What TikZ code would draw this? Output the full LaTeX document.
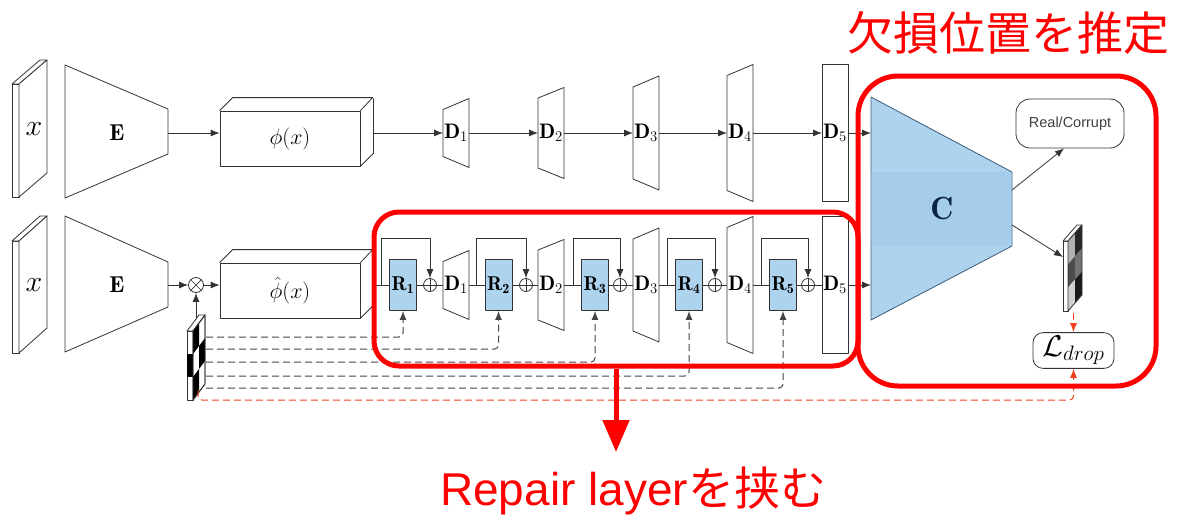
\documentclass[tikz,border=0pt]{standalone}
\usepackage{fix-cm}
\usepackage{fontspec}
\usetikzlibrary{arrows.meta}
\newfontfamily\sansfont{Liberation Sans}
\newfontfamily\cjk{Noto Sans CJK JP}
\definecolor{blockblue}{HTML}{AED3EE}
\definecolor{bandblue}{HTML}{9CC6E8}
\definecolor{cedge}{HTML}{3B5B78}
\definecolor{cnavy}{HTML}{0B2340}
\definecolor{dropred}{HTML}{F0401E}
\definecolor{maskgray}{HTML}{454545}

\begin{document}
\begin{tikzpicture}[x=1pt, y=-1pt, line join=round,
    net/.style={draw=black!80, line width=0.8pt},
    arr/.style={net, -{Latex[length=9pt,width=7pt]}},
    rblock/.style={net, fill=blockblue, minimum width=27pt, minimum height=51pt, inner sep=0pt,
      font=\fontsize{20}{22}\selectfont},
    adder/.style={net, circle, minimum size=13pt, inner sep=0pt, path picture={
      \draw[line width=0.8pt] (path picture bounding box.north) -- (path picture bounding box.south)
        (path picture bounding box.west) -- (path picture bounding box.east);}},
    mult/.style={net, circle, minimum size=15pt, inner sep=0pt, path picture={
      \draw[line width=0.7pt] (path picture bounding box.north west) -- (path picture bounding box.south east)
        (path picture bounding box.north east) -- (path picture bounding box.south west);}},
    maskline/.style={draw=maskgray, line width=1pt, dash pattern=on 7pt off 4pt, rounded corners=4pt,
      -{Latex[length=9pt,width=7pt]}},
    dropline/.style={draw=dropred, line width=1pt, dash pattern=on 7pt off 4pt, rounded corners=4pt,
      -{Latex[length=9pt,width=7pt]}},
    redbox/.style={draw=red, line width=5pt, inner sep=0pt},
    dlabel/.style={inner sep=0pt, font=\fontsize{21}{23}\selectfont},
  ]
  \useasboundingbox (0,0) rectangle (1180,517);

  % input slabs
  \draw[net, fill=white] (12,84) rectangle (19,197);
  \draw[net, fill=white] (12,84) -- (40,60) -- (47,60) -- (19,84) -- cycle;
  \draw[net, fill=white] (19,84) -- (47,60) -- (47,173) -- (19,197) -- cycle;
  \node (xa) at (34,129) {\fontsize{30}{32}\selectfont$x$};
  \draw[net, fill=white] (12,241) rectangle (19,353);
  \draw[net, fill=white] (12,241) -- (40,216) -- (47,216) -- (19,241) -- cycle;
  \draw[net, fill=white] (19,241) -- (47,216) -- (47,328) -- (19,353) -- cycle;
  \node (xb) at (34,285) {\fontsize{30}{32}\selectfont$x$};

  % encoders
  \draw[net] (65,65) -- (168,109) -- (168,154) -- (65,198) -- cycle;
  \node (Ea) at (117,133) {\fontsize{23}{25}\selectfont$\mathbf{E}$};
  \coordinate (Ea-e) at (168,133);
  \draw[net] (65,216) -- (168,262) -- (168,307) -- (65,352) -- cycle;
  \node (Eb) at (117,285) {\fontsize{23}{25}\selectfont$\mathbf{E}$};
  \coordinate (Eb-e) at (168,285);

  % feature boxes
  \node[net, minimum width=140pt, minimum height=55pt] (pha) at (290,138.5) {\fontsize{22}{24}\selectfont$\phi(x)$};
  \draw[net] (pha.north west) -- ++(13,-13) -- ++(140,0) -- (pha.north east)
    (pha.south east) -- ++(13,-13) -- ++(0,-55);
  \coordinate (pha-e) at (373,133);
  \node[net, minimum width=140pt, minimum height=55pt] (phb) at (290,290.5) {\fontsize{22}{24}\selectfont$\hat{\phi}(x)$};
  \draw[net] (phb.north west) -- ++(13,-13) -- ++(140,0) -- (phb.north east)
    (phb.south east) -- ++(13,-13) -- ++(0,-55);
  \coordinate (phb-e) at (373,285);

  \draw[arr] (Ea-e) -- (Ea-e -| pha.west);
  \node[mult] (X) at (196,285) {};
  \draw[arr] (Eb-e) -- (X);
  \draw[arr] (X) -- (X -| phb.west);

  % decoder layers
  \foreach \i/\xl/\hl/\hr in {1/443/23.5/34.5, 2/538/35/45.5, 3/633/46/57, 4/727/57.5/68.5, 5/822/68.5/68.5} {
    \draw[net, fill=white] (\xl,133-\hl) -- (\xl+26,133-\hr) -- (\xl+26,133+\hr) -- (\xl,133+\hl) -- cycle;
    \coordinate (tD\i-w) at (\xl,133);
    \coordinate (tD\i-e) at (\xl+26,133);
    \node[dlabel] (tD\i) at (\xl+13,133) {$\mathbf{D}_{\i}$};
    \draw[net, fill=white] (\xl,285-\hl) -- (\xl+26,285-\hr) -- (\xl+26,285+\hr) -- (\xl,285+\hl) -- cycle;
    \coordinate (bD\i-w) at (\xl,285);
    \coordinate (bD\i-e) at (\xl+26,285);
    \node[dlabel] (bD\i) at (\xl+13,285) {$\mathbf{D}_{\i}$};
  }
  \draw[arr] (pha-e) -- (tD1-w);
  \foreach \i/\j in {1/2, 2/3, 3/4, 4/5}
    \draw[arr] (tD\i-e) -- (tD\j-w);

  % repair layers
  \foreach \i/\xr/\xp in {1/403/430, 2/498.5/526, 3/595/620, 4/689/715, 5/783/808} {
    \node[rblock] (R\i) at (\xr,285) {$\mathbf{R}_{\mathbf{\i}}$};
    \node[adder] (P\i) at (\xp,285) {};
    \draw[net] (R\i) -- (P\i);
    \draw[net] (P\i) -- (bD\i-w);
    \draw[arr] ([xshift=-8pt]R\i.west) -- ++(0,-47) -| (P\i.north);
  }
  \draw[net] (phb-e) -- (R1);
  \foreach \i/\j in {1/2, 2/3, 3/4, 4/5}
    \draw[net] (bD\i-e) -- (R\j);

  % classifier
  \draw[draw=cedge, line width=0.8pt, fill=blockblue] (871,97) -- (1012,172) -- (1012,246) -- (871,320) -- cycle;
  \fill[bandblue, opacity=0.45] (871,172) rectangle (1012,246);
  \node[text=cnavy] (C) at (942,209) {\fontsize{32}{34}\selectfont$\mathbf{C}$};
  \coordinate (C-tw) at (871,133);
  \coordinate (C-bw) at (871,285);
  \coordinate (C-e1) at (1012,190);
  \coordinate (C-e2) at (1012,225);
  \draw[arr] (tD5-e) -- (C-tw);
  \draw[arr] (bD5-e) -- (C-bw);

  \node[net, rounded corners=14pt, minimum width=108pt, minimum height=49pt, text=black!75,
    font=\sansfont\fontsize{14.5}{16}\selectfont] (RC) at (1070,123.5) {Real/Corrupt};
  \draw[arr] (C-e1) -- ([xshift=-6pt]RC.south);

  % predicted mask
  \draw[net, fill=white] (1063,241) rectangle (1068,311);
  \draw[net, fill=white] (1063,241) -- (1077,225) -- (1082,225) -- (1068,241) -- cycle;
  \foreach \c/\r/\g in {0/0/30, 1/0/85, 0/1/70, 1/1/55, 0/2/18, 1/2/90}
    \fill[black!\g] (1068+7*\c,241-8*\c+23.3*\r) -- ++(7,-8) -- ++(0,23.3) -- ++(-7,8) -- cycle;
  \draw[net] (1068,241) -- (1082,225) -- (1082,295) -- (1068,311) -- cycle;
  \coordinate (out-w) at (1063,257);
  \coordinate (out-s) at (1073.5,313);
  \draw[arr] (C-e2) -- (out-w);

  \node[net, rounded corners=10pt, minimum width=81pt, minimum height=35pt] (Ldrop) at (1073.5,350.5)
    {\fontsize{30}{32}\selectfont$\mathcal{L}_{drop}$};
  \draw[dropline] (out-s) -- (Ldrop.north);

  % drop mask
  \draw[net, fill=white] (187,331) rectangle (193,400);
  \draw[net, fill=white] (187,331) -- (199,315) -- (205,315) -- (193,331) -- cycle;
  \draw[net, fill=white] (193,331) -- (205,315) -- (205,384) -- (193,400) -- cycle;
  \foreach \c/\r in {0/0, 1/1, 0/2}
    \fill[black] (193+6*\c,331-8*\c+23*\r) -- ++(6,-8) -- ++(0,23) -- ++(-6,8) -- cycle;
  \fill[black] (187,354) rectangle (193,377);
  \draw[net] (193,331) -- (205,315) -- (205,384) -- (193,400) -- cycle;
  \coordinate (mk-t) at (196,319);
  \draw[arr] (mk-t) -- (X);
  \foreach \i/\y in {1/337, 2/349, 3/362, 4/376, 5/388} {
    \coordinate (m\i) at (206,\y);
    \draw[maskline] (m\i) -| (R\i.south);
  }
  \coordinate (mk-b) at (198,390);
  \coordinate (dr-c) at (1073.5,400);
  \draw[dropline] (mk-b) |- (dr-c) -- (Ldrop.south);

  % highlights
  \node[redbox, rounded corners=25pt, minimum width=484pt, minimum height=154pt] (rep) at (616,289) {};
  \node[redbox, rounded corners=40pt, minimum width=298pt, minimum height=310pt] (cbox) at (1007,231) {};
  \coordinate (tip) at (616,452);
  \draw[red, line width=5pt, -{Triangle[length=32pt,width=26pt]}] (rep.south) -- (tip);

  \node[anchor=base west, inner sep=0pt, text=red, font=\cjk\fontsize{46}{50}\selectfont] (ttl) at (847,50) {欠損位置を推定};
  \node[anchor=base west, inner sep=0pt, text=red, font=\fontsize{46}{50}\selectfont] (rtxt) at (440,505)
    {{\sansfont Repair layer}{\cjk を挟む}};
\end{tikzpicture}
\end{document}
